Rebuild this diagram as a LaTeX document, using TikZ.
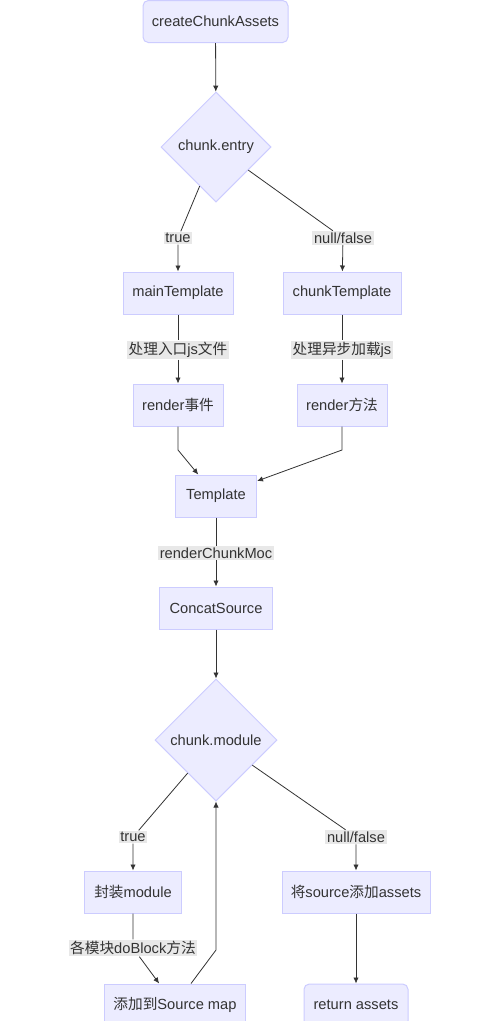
\documentclass[tikz,border=0pt]{standalone}
\usepackage{fontspec}
\setmainfont{Liberation Sans}
\newfontfamily\cjk{Noto Sans CJK SC}
\usepackage{tikz}
\usepackage{xcolor}
\usetikzlibrary{positioning, arrows.meta, shapes.geometric}

\definecolor{boxfill}{HTML}{ECECFF}
\definecolor{boxline}{HTML}{CCCCFF}
\definecolor{lblfill}{HTML}{E8E8E8}
\definecolor{ink}{HTML}{333333}

\begin{document}
\begin{tikzpicture}[x=0.75pt, y=-0.75pt,
        every node/.style={font=\fontsize{11}{13}\selectfont, text=ink},
        box/.style={draw=boxline, fill=boxfill, line width=0.75pt, minimum height=31.5pt, inner sep=2pt},
        rbox/.style={box, rounded corners=4pt},
        decide/.style={diamond, draw=boxline, fill=boxfill, line width=0.75pt, aspect=1, inner sep=0pt},
        lbl/.style={fill=lblfill, inner sep=1.2pt},
        flow/.style={draw=ink, line width=0.6pt, -{Latex[length=4.5pt, width=4pt]}}]
            \useasboundingbox (0, 0) rectangle (503, 1021);
            \fill[white] (0, 0) rectangle (503, 1021);
            % first decision
            \node [rbox, minimum width=108.75pt] (start) at (215.5, 21.5) {createChunkAssets};
            \node [decide, minimum size=82.5pt] (entry) at (216, 147) {chunk.entry};
            \node [lbl] (t1) at (178, 238) {true};
            \node [lbl] (f1) at (343, 238) {null/false};
            \node [box, minimum width=82.5pt] (main) at (178, 293) {mainTemplate};
            \node [box, minimum width=88.5pt] (chunk) at (342, 293) {chunkTemplate};
            \node [lbl] (l1) at (178, 350) {{\cjk 处理入口}js{\cjk 文件}};
            \node [lbl] (l2) at (342, 350) {{\cjk 处理异步加载}js};
            \node [box, minimum width=67.5pt] (render1) at (178, 405) {render{\cjk 事件}};
            \node [box, minimum width=67.5pt] (render2) at (342, 405) {render{\cjk 方法}};
            \node [box, minimum width=60.75pt] (tpl) at (216, 496) {Template};
            \node [lbl] (l3) at (216, 553) {renderChunkMoc};
            \node [box, minimum width=84.75pt] (concat) at (216, 608) {ConcatSource};
            % second decision
            \node [decide, minimum size=91.5pt] (cm) at (216, 740) {chunk.module};
            \node [lbl] (t2) at (133, 837) {true};
            \node [lbl] (f2) at (356, 837) {null/false};
            \node [box, minimum width=72.75pt] (wrap) at (133, 892) {{\cjk 封装}module};
            \node [box, minimum width=111pt] (add) at (356, 892) {{\cjk 将}source{\cjk 添加}assets};
            \node [lbl] (l4) at (133, 948) {{\cjk 各模块}doBlock{\cjk 方法}};
            \node [box, minimum width=105.75pt] (smap) at (175, 1005) {{\cjk 添加到}Source map};
            \node [rbox, minimum width=78pt] (ret) at (356, 1005) {return assets};
            \coordinate (b1) at (178, 450);
            \coordinate (b2) at (342, 450);
            \coordinate (b3) at (216, 950);

            \draw[flow] (start) -- (entry);
            \draw[flow] (entry) -- (t1) -- (main);
            \draw[flow] (entry) -- (f1) -- (chunk);
            \draw[flow] (main) -- (l1) -- (render1);
            \draw[flow] (chunk) -- (l2) -- (render2);
            \draw[flow] (render1) -- (b1) -- (tpl);
            \draw[flow] (render2) -- (b2) -- (tpl);
            \draw[flow] (tpl) -- (l3) -- (concat);
            \draw[flow] (concat) -- (cm);
            \draw[flow] (cm) -- (t2) -- (wrap);
            \draw[flow] (cm) -- (f2) -- (add);
            \draw[flow] (wrap) -- (l4) -- (smap);
            \draw[flow] (smap) -- (b3) -- (cm);
            \draw[flow] (add) -- (ret);
        \end{tikzpicture}
\end{document}
